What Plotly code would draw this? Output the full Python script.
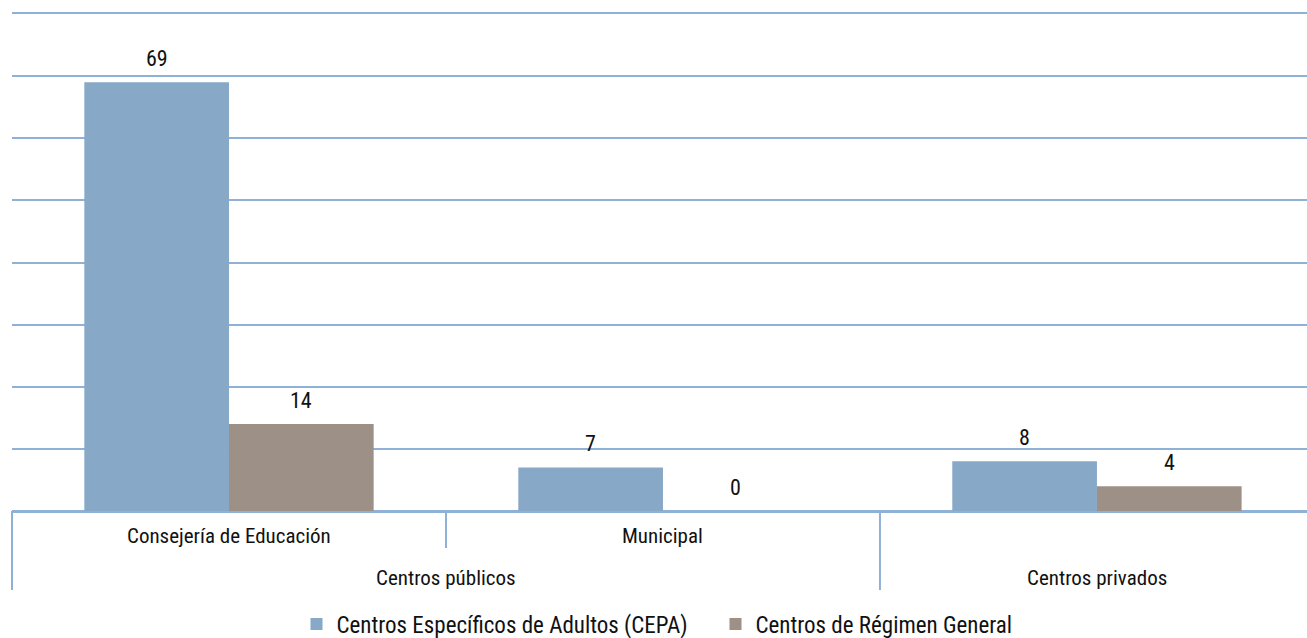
import plotly.graph_objects as go

# ---- data ----
outer_labels = ["Centros públicos", "Centros públicos", "Centros privados"]
inner_labels = ["Consejería de Educación", "Municipal", ""]
category_ids = ["Consejería de Educación", "Municipal", "Centros privados"]
series_names = ["Centros Específicos de Adultos (CEPA)", "Centros de Régimen General"]
cepa = [69, 7, 8]
general = [14, 0, 4]
y_ticks = [0, 10, 20, 30, 40, 50, 60, 70, 80]

# ---- style ----
FONT = "Roboto Condensed, Liberation Sans, sans-serif"
BLUE = "#87a8c6"
BROWN = "#9c9087"
GRID = "#8fb1d5"
TXT = "#111111"
BARGAP = 1 / 3
XR = [-0.5, 2.484]
W, H = 1307, 638
ML, MR, MT, MB = 12, 0, 14, 127
plot_h = H - MT - MB
plot_w = W - ML - MR


def px_to_paper_y(py):
    return (H - MB - py) / plot_h


def x_to_paper(x):
    return (x - XR[0]) / (XR[1] - XR[0])


fig = go.Figure()
fig.add_trace(go.Bar(x=category_ids, y=cepa, name=series_names[0],
                     marker=dict(color=BLUE, line=dict(width=0))))
fig.add_trace(go.Bar(x=category_ids, y=general, name=series_names[1],
                     marker=dict(color=BROWN, line=dict(width=0))))

annotations = []
off = (1 - BARGAP) / 4
for i, cid in enumerate(category_ids):
    for vals, sign in ((cepa, -1), (general, 1)):
        annotations.append(dict(
            x=i + sign * off, xref="x", y=vals[i], yref="y",
            text=str(vals[i]), showarrow=False, yanchor="middle", yshift=24,
            font=dict(family=FONT, size=22, color=TXT)))
    if inner_labels[i]:
        annotations.append(dict(
            x=i, xref="x", y=px_to_paper_y(536), yref="paper",
            text=inner_labels[i], showarrow=False, yanchor="middle",
            font=dict(family=FONT, size=21, color=TXT)))

# outer group labels centred over their categories
groups = []
for i, g in enumerate(outer_labels):
    if groups and groups[-1][0] == g:
        groups[-1][2] = i
    else:
        groups.append([g, i, i])
for g, a, b in groups:
    annotations.append(dict(
        x=(a + b) / 2, xref="x", y=px_to_paper_y(578), yref="paper",
        text=g, showarrow=False, yanchor="middle",
        font=dict(family=FONT, size=21, color=TXT)))

# divider lines
shapes = []
for g, a, b in groups:
    shapes.append(dict(type="line", xref="paper", yref="paper",
                       x0=x_to_paper(a - 0.5), x1=x_to_paper(a - 0.5),
                       y0=0, y1=px_to_paper_y(590),
                       line=dict(color=GRID, width=2)))
for i in range(1, len(category_ids)):
    if outer_labels[i] == outer_labels[i - 1]:
        shapes.append(dict(type="line", xref="paper", yref="paper",
                           x0=x_to_paper(i - 0.5), x1=x_to_paper(i - 0.5),
                           y0=0, y1=px_to_paper_y(548),
                           line=dict(color=GRID, width=2)))

fig.update_layout(
    width=W, height=H,
    margin=dict(l=ML, r=MR, t=MT, b=MB, autoexpand=False),
    paper_bgcolor="white", plot_bgcolor="white",
    barmode="group", bargap=BARGAP, bargroupgap=0,
    font=dict(family=FONT, color=TXT),
    showlegend=True,
    legend=dict(orientation="h", x=0.5 + 56 / plot_w, xanchor="center",
                y=px_to_paper_y(624), yanchor="middle",
                font=dict(family=FONT, size=23, color=TXT),
                itemwidth=30, entrywidth=374, traceorder="normal"),
    xaxis=dict(range=XR, showticklabels=False, showgrid=False,
               zeroline=False, showline=True, mirror=True,
               linecolor=GRID, linewidth=2, ticks=""),
    yaxis=dict(range=[0, 80], tickvals=y_ticks, showticklabels=False,
               showgrid=True, gridcolor=GRID, gridwidth=2,
               zeroline=True, zerolinecolor=GRID, zerolinewidth=2,
               showline=False, ticks=""),
    annotations=annotations,
    shapes=shapes,
)

fig.write_html("out.html", config={"displayModeBar": False},
               post_script="document.body.style.margin='0';document.body.style.overflow='hidden';")
